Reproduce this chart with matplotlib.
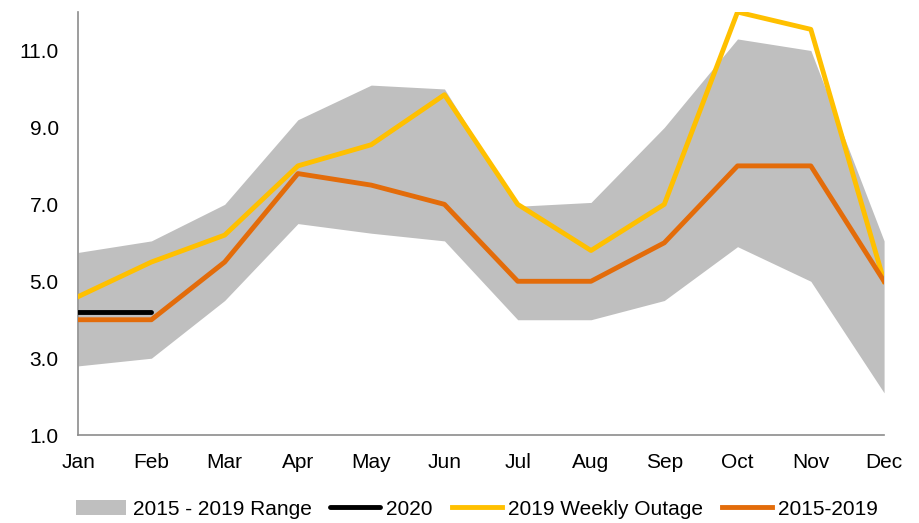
import matplotlib
matplotlib.use("Agg")
import matplotlib.pyplot as plt
import numpy as np

plt.rcParams['font.family'] = ['Liberation Sans', 'DejaVu Sans']

months = ['Jan', 'Feb', 'Mar', 'Apr', 'May', 'Jun', 'Jul', 'Aug', 'Sep', 'Oct', 'Nov', 'Dec']

range_low = [2.8, 3.0, 4.5, 6.5, 6.25, 6.05, 4.0, 4.0, 4.5, 5.9, 5.0, 2.1]
range_high = [5.75, 6.05, 7.0, 9.2, 10.1, 10.0, 6.95, 7.05, 9.0, 11.3, 11.0, 6.05]
outage_2020 = [4.2, 4.2]
outage_2019 = [4.6, 5.5, 6.2, 8.0, 8.55, 9.85, 7.0, 5.8, 7.0, 12.0, 11.55, 5.0]
avg_2015_2019 = [4.0, 4.0, 5.5, 7.8, 7.5, 7.0, 5.0, 5.0, 6.0, 8.0, 8.0, 5.0]

y_ticks = [1.0, 3.0, 5.0, 7.0, 9.0, 11.0]

fig = plt.figure(figsize=(9.19, 5.23), dpi=100)
ax = fig.add_axes([0.085, 0.168, 0.877, 0.809])

x = np.arange(len(months))
ax.fill_between(x, range_low, range_high, color='#BFBFBF', linewidth=0,
                label='2015 - 2019 Range', zorder=1)
ax.plot(x[:len(outage_2020)], outage_2020, color='black', lw=3.5,
        solid_capstyle='round', label='2020', zorder=4)
ax.plot(x, outage_2019, color='#FFC000', lw=3.5, label='2019 Weekly Outage', zorder=3)
ax.plot(x, avg_2015_2019, color='#E36C0A', lw=3.5, label='2015-2019', zorder=3)

ax.set_xlim(0, 11)
ax.set_ylim(1, 12)
ax.set_xticks(x)
ax.set_xticklabels(months)
ax.set_yticks(y_ticks)
ax.set_yticklabels([f'{v:.1f}' for v in y_ticks])
ax.tick_params(axis='both', length=0, labelsize=15)
ax.tick_params(axis='x', pad=13)
ax.tick_params(axis='y', pad=14)

for side in ['top', 'right']:
    ax.spines[side].set_visible(False)
for side in ['left', 'bottom']:
    ax.spines[side].set_color('#8C8C8C')
    ax.spines[side].set_linewidth(1.2)

leg = ax.legend(loc='upper center', bbox_to_anchor=(0.495, -0.108), ncol=4,
                frameon=False, fontsize=15, handlelength=2.4, handletextpad=0.3,
                columnspacing=0.9)

fig.savefig('out.png', dpi=100, facecolor='white')
